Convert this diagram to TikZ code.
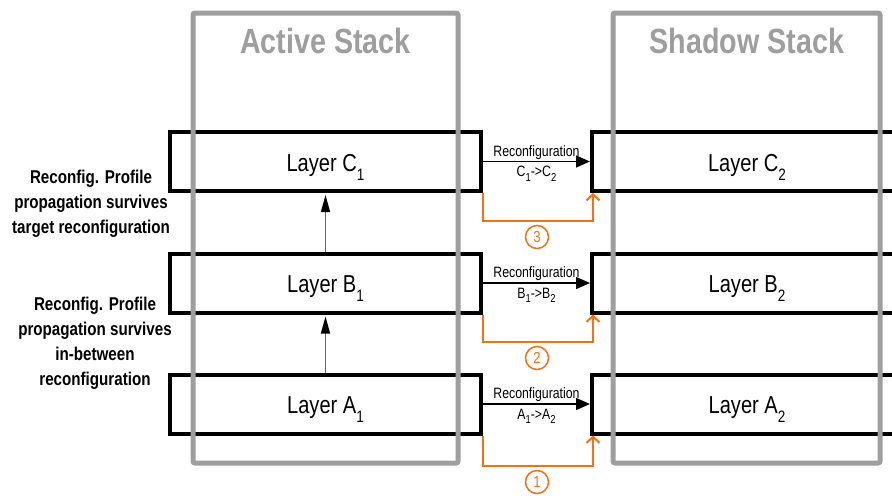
\documentclass[tikz,border=0pt]{standalone}
\usepackage{fontspec}
\setmainfont{Liberation Sans}
\newfontfamily\nf[FakeStretch=0.82]{Liberation Sans}
\usetikzlibrary{arrows.meta,calc}
\definecolor{stackgray}{RGB}{158,158,158}
\definecolor{orng}{RGB}{245,112,22}
\definecolor{linegray}{RGB}{100,100,100}
\newcommand\lsubL[1]{\raisebox{-9pt}{\fontsize{16.5}{16.5}\selectfont #1}}
\newcommand\lsubS[1]{\raisebox{-4.5pt}{\fontsize{11.5}{11.5}\selectfont #1}}
\begin{document}
\begin{tikzpicture}[x=1pt,y=-1pt,
  layerbox/.style={draw=black, line width=4pt, minimum width=311pt, minimum height=59pt,
    inner sep=0pt, text height=19pt, text depth=0pt, font=\nf\fontsize{24.5}{24.5}\selectfont},
  stackbox/.style={draw=stackgray, line width=5pt, rounded corners=2pt, inner sep=0pt},
  stacktitle/.style={text=stackgray, font=\nf\bfseries\fontsize{35}{35}\selectfont, anchor=base},
  recarrow/.style={line width=1.4pt, -{Triangle[length=14pt,width=12pt]}},
  reclabel/.style={font=\nf\fontsize{15}{15}\selectfont},
  orangeline/.style={draw=orng, line width=2pt, -{Straight Barb[length=6pt,width=13pt]}},
  numcircle/.style={circle, draw=orng, line width=1.5pt, text=orng, minimum size=23pt, inner sep=0pt,
    font=\nf\fontsize{16}{16}\selectfont},
  uparrow/.style={draw=linegray, line width=1.5pt, -{Triangle[length=17pt,width=9pt,fill=black,color=black]}, shorten >=2pt},
  sidetext/.style={align=center, font=\nf\bfseries\fontsize{18.5}{25}\selectfont}
]
\useasboundingbox (0,0) rectangle (892,499);

% layers
\node[layerbox] (C1) at (325.5,161.5) {Layer C\lsubL{1}};
\node[layerbox] (B1) at (325.5,283) {Layer B\lsubL{1}};
\node[layerbox] (A1) at (325.5,404) {Layer A\lsubL{1}};
\node[layerbox, minimum width=310pt] (C2) at (747,161.5) {Layer C\lsubL{2}};
\node[layerbox, minimum width=310pt] (B2) at (747,283) {Layer B\lsubL{2}};
\node[layerbox, minimum width=310pt] (A2) at (747,404) {Layer A\lsubL{2}};

% stacks
\node[stackbox, minimum width=265pt, minimum height=450pt] (active) at (325.5,238) {};
\node[stackbox, minimum width=267pt, minimum height=450pt] (shadow) at (746.5,238) {};
\node[stacktitle] (activeT) at (325.5,53.5) {Active Stack};
\node[stacktitle] (shadowT) at (747,53.5) {Shadow Stack};

% reconfiguration arrows
\draw[recarrow] (C1.east) -- node[above, reclabel, inner sep=1.5pt] {Reconfiguration}
  node[below, reclabel, inner sep=4pt] {C\lsubS{1}->C\lsubS{2}} (C2.west);
\draw[recarrow] (B1.east) -- node[above, reclabel, inner sep=1.5pt] {Reconfiguration}
  node[below, reclabel, inner sep=4pt] {B\lsubS{1}->B\lsubS{2}} (B2.west);
\draw[recarrow] (A1.east) -- node[above, reclabel, inner sep=1.5pt] {Reconfiguration}
  node[below, reclabel, inner sep=4pt] {A\lsubS{1}->A\lsubS{2}} (A2.west);

% orange propagation connectors
\draw[orangeline] (C1.south east) -- ++(0,28) -| ([xshift=3pt]C2.south west);
\draw[orangeline] (B1.south east) -- ++(0,27) -| ([xshift=3pt]B2.south west);
\draw[orangeline] (A1.south east) -- ++(0,30) -| ([xshift=3pt]A2.south west);
\node[numcircle] (n3) at (537,237) {3};
\node[numcircle] (n2) at (537,358) {2};
\node[numcircle] (n1) at (537,482) {1};

% vertical arrows
\draw[uparrow] (B1.north) -- (C1.south);
\draw[uparrow] (A1.north) -- (B1.south);

% side notes
\node[sidetext] (note1) at (91,204) {Reconfig. Profile\\propagation survives\\target reconfiguration};
\node[sidetext] (note2) at (95,343) {Reconfig. Profile\\propagation survives\\in-between\\reconfiguration};
\end{tikzpicture}
\end{document}
